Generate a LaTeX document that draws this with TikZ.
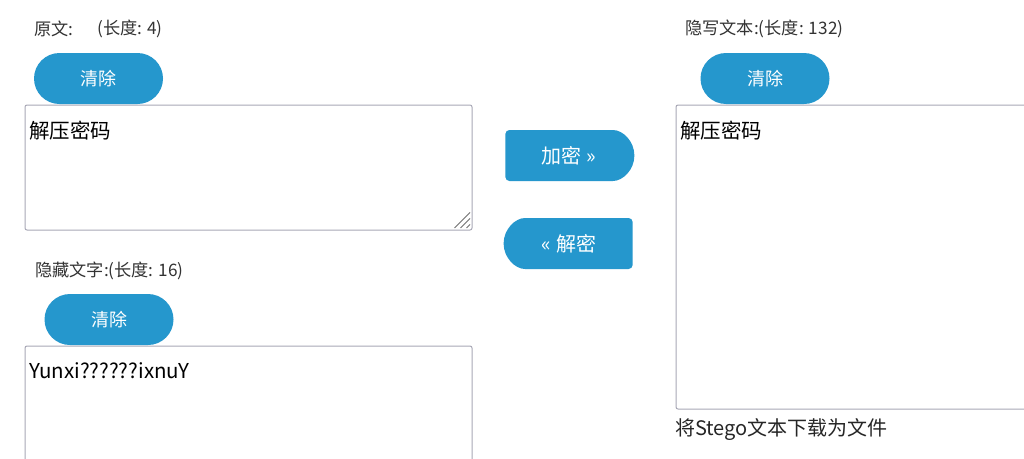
\documentclass[tikz,border=0pt]{standalone}
\usepackage{fontspec}
\setmainfont{Noto Sans CJK SC}
\usetikzlibrary{shapes.misc}
\definecolor{btnblue}{HTML}{2597CD}
\definecolor{lbl}{HTML}{333333}
\definecolor{bord}{HTML}{A8A8B6}
\definecolor{gripc}{HTML}{707070}
\tikzset{
  pill/.style={shape=rounded rectangle, fill=btnblue, text=white, minimum width=129pt,
    minimum height=51pt, inner sep=0pt, font=\fontsize{18pt}{20pt}\selectfont},
  bigpill/.style={pill, font=\fontsize{20pt}{24pt}\selectfont, rounded corners=4pt},
  lbltext/.style={anchor=west, inner sep=0pt, text=lbl, font=\fontsize{17.2pt}{20pt}\selectfont},
  areatext/.style={anchor=west, inner sep=0pt, text=black, font=\fontsize{20.5pt}{24pt}\selectfont},
  areabox/.style={draw=bord, line width=1pt, rounded corners=2pt, fill=white, anchor=north west, inner sep=0pt},
  grip/.style={draw=gripc, line width=1pt},
}
\begin{document}
\begin{tikzpicture}[x=1pt,y=-1pt]
\useasboundingbox[fill=white] (0,0) rectangle (1024,458);
\clip (0,0) rectangle (1024,458);

% labels
\node[lbltext] (l1a) at (34,28.5) {原文:};
\node[lbltext] (l1b) at (97,28.5) {(长度: 4)};
\node[lbltext] (l2) at (35,270.5) {隐藏文字:(长度: 16)};
\node[lbltext] (l3) at (685,28.5) {隐写文本:(长度: 132)};

% text areas
\node[areabox, minimum width=447pt, minimum height=125pt] (ta1) at (24.5,104.5) {};
\node[areabox, minimum width=447pt, minimum height=140pt] (ta2) at (24.5,345.5) {};
\node[areabox, minimum width=380pt, minimum height=304pt] (ta3) at (675.5,104.5) {};

\node[areatext] (t1) at (29,130.5) {解压密码};
\node[areatext] (t2) at (29,370.5) {Yunxi??????ixnuY};
\node[areatext] (t3) at (680,130.5) {解压密码};

% resize grips
\foreach \d in {2,8,14}{
  \draw[grip] ([shift={(-20pt+\d pt,2.5pt)}]ta1.south east) -- ([shift={(-2.5pt,20pt-\d pt)}]ta1.south east);
}
\foreach \d in {2,8,14}{
  \draw[grip] ([shift={(-20pt+\d pt,2.5pt)}]ta2.south east) -- ([shift={(-2.5pt,20pt-\d pt)}]ta2.south east);
}

% buttons
\node[pill] (c1) at (98.5,78.5) {清除};
\node[pill] (c2) at (109,319.5) {清除};
\node[pill] (c3) at (765,78.5) {清除};
\node[bigpill, rounded rectangle left arc=none] (enc) at (569,155.5) {加密 »};
\node[bigpill, rounded rectangle right arc=none] (dec) at (569,243.5) {« 解密};

% download link
\node[areatext, font=\fontsize{20pt}{24pt}\selectfont, text=black!85] (dl) at (675,430) {将Stego文本下载为文件};
\end{tikzpicture}
\end{document}
